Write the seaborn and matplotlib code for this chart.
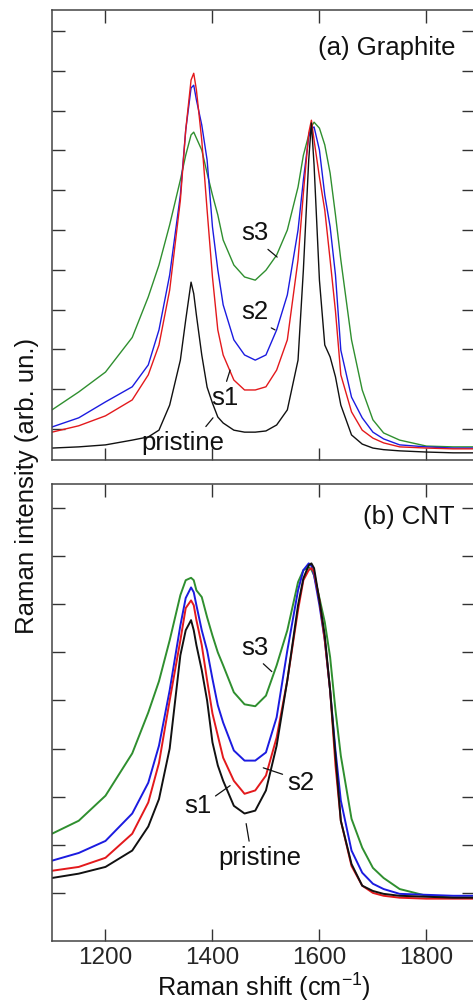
import matplotlib
matplotlib.use("Agg")
import matplotlib.pyplot as plt
import numpy as np
import pandas as pd
import seaborn as sns

# ---------------- data ----------------
shift = [1100, 1150, 1200, 1250, 1280, 1300, 1320, 1340, 1350, 1360, 1365, 1370, 1380,
         1390, 1400, 1410, 1420, 1440, 1460, 1480, 1500, 1520, 1540, 1560, 1570, 1580,
         1585, 1590, 1600, 1610, 1620, 1630, 1640, 1660, 1680, 1700, 1720, 1750, 1800,
         1850, 1890]

sample_names = ["pristine", "s1", "s2", "s3"]

# (a) Graphite
gr_pristine = [0.52, 0.55, 0.60, 0.72, 0.80, 0.97, 1.60, 2.73, 3.74, 4.69, 4.40, 3.86, 2.86,
               2.05, 1.65, 1.30, 1.15, 0.97, 0.92, 0.92, 0.95, 1.10, 1.48, 2.73, 5.00, 7.76,
               8.69, 7.63, 4.74, 3.11, 2.81, 2.31, 1.60, 0.85, 0.62, 0.52, 0.48, 0.45, 0.42,
               0.40, 0.40]
gr_s1 = [0.92, 1.08, 1.33, 1.73, 2.36, 3.11, 4.49, 6.75, 8.51, 9.77, 9.94, 9.52, 8.26,
         6.50, 4.82, 3.49, 2.86, 2.23, 1.98, 1.98, 2.06, 2.48, 3.24, 5.25, 6.93, 8.44,
         8.76, 8.26, 7.33, 6.50, 5.25, 3.96, 2.36, 1.43, 0.97, 0.77, 0.65, 0.55, 0.52,
         0.50, 0.50]
gr_s2 = [1.05, 1.28, 1.68, 2.06, 2.61, 3.49, 4.87, 6.88, 8.51, 9.57, 9.64, 9.27, 8.64,
         7.76, 6.08, 5.00, 4.12, 3.24, 2.86, 2.73, 2.86, 3.49, 4.37, 6.00, 7.26, 8.34,
         8.55, 8.59, 8.01, 6.88, 6.08, 4.87, 2.98, 1.80, 1.28, 0.92, 0.75, 0.60, 0.55,
         0.52, 0.52]
gr_s3 = [1.48, 1.93, 2.43, 3.30, 4.32, 5.12, 6.13, 7.26, 7.88, 8.39, 8.46, 8.31, 8.01,
         7.43, 6.88, 6.38, 5.75, 5.12, 4.82, 4.74, 4.99, 5.37, 6.00, 7.08, 7.88, 8.39,
         8.60, 8.71, 8.56, 8.14, 7.43, 6.38, 5.25, 3.24, 1.98, 1.23, 0.90, 0.72, 0.57,
         0.55, 0.55]

# (b) CNT
cnt_pristine = [1.31, 1.40, 1.54, 1.88, 2.38, 2.95, 4.00, 5.94, 6.46, 6.67, 6.46, 6.15, 5.63,
                5.00, 4.13, 3.65, 3.33, 2.81, 2.65, 2.71, 3.13, 4.06, 5.42, 6.98, 7.54, 7.81,
                7.85, 7.75, 7.08, 6.35, 5.21, 3.85, 2.50, 1.60, 1.15, 1.04, 0.98, 0.94, 0.92,
                0.90, 0.90]
cnt_s1 = [1.46, 1.54, 1.73, 2.23, 2.88, 3.70, 5.00, 6.25, 6.92, 7.08, 6.98, 6.67, 6.15,
          5.42, 4.73, 4.27, 3.81, 3.33, 3.06, 3.13, 3.44, 4.23, 5.42, 6.88, 7.50, 7.71,
          7.75, 7.67, 7.08, 6.25, 5.21, 3.65, 2.50, 1.56, 1.15, 1.00, 0.94, 0.90, 0.88,
          0.88, 0.88]
cnt_s2 = [1.67, 1.83, 2.08, 2.65, 3.29, 4.06, 5.21, 6.56, 7.13, 7.35, 7.25, 6.98, 6.46,
          6.04, 5.45, 4.90, 4.54, 3.96, 3.75, 3.75, 3.92, 4.65, 6.04, 7.29, 7.71, 7.85,
          7.80, 7.60, 6.98, 6.25, 5.21, 3.96, 2.92, 1.88, 1.42, 1.19, 1.08, 0.98, 0.96,
          0.94, 0.94]
cnt_s3 = [2.23, 2.50, 3.02, 3.90, 4.75, 5.40, 6.25, 7.19, 7.50, 7.55, 7.50, 7.29, 7.15,
          6.73, 6.35, 6.00, 5.73, 5.17, 4.92, 4.88, 5.10, 5.73, 6.46, 7.46, 7.71, 7.77,
          7.72, 7.60, 7.13, 6.63, 5.90, 4.80, 3.85, 2.54, 1.94, 1.52, 1.31, 1.08, 0.94,
          0.90, 0.90]

xticks = [1200, 1400, 1600, 1800]
panel_titles = ["(a) Graphite", "(b) CNT"]

# ---------------- style ----------------
sns.set_theme(style="ticks")
plt.rcParams["font.family"] = ["Liberation Sans", "DejaVu Sans"]
plt.rcParams["mathtext.fontset"] = "custom"
plt.rcParams["mathtext.rm"] = "Liberation Sans"
plt.rcParams["mathtext.it"] = "Liberation Sans:italic"

colors = {"pristine": "#111111", "s1": "#e3191c", "s2": "#1b1be0", "s3": "#2f8f2f"}
draw_order = ["s3", "s2", "s1", "pristine"]

W, H = 473, 1005
fig = plt.figure(figsize=(W / 100, H / 100), dpi=100)

ax1 = fig.add_axes([52 / W, 1 - 460 / H, (474 - 52) / W, 450 / H])
ax2 = fig.add_axes([52 / W, 1 - 941 / H, (474 - 52) / W, 457 / H])


def long_df(series):
    frames = []
    for name, vals in zip(sample_names, series):
        frames.append(pd.DataFrame({"shift": shift, "intensity": vals, "sample": name}))
    return pd.concat(frames, ignore_index=True)


def draw(ax, series, lw):
    df = long_df(series)
    sns.lineplot(data=df, x="shift", y="intensity", hue="sample", hue_order=draw_order,
                 palette=colors, linewidth=lw, legend=False, ax=ax,
                 estimator=None, sort=False)


draw(ax1, [gr_pristine, gr_s1, gr_s2, gr_s3], 1.0)
draw(ax2, [cnt_pristine, cnt_s1, cnt_s2, cnt_s3], 1.4)

ax1.set_ylim(0.22, 11.53)
ax1.set_yticks(range(1, 12))
ax2.set_ylim(0.0, 9.5)
ax2.set_yticks(range(1, 10))

for ax in (ax1, ax2):
    ax.set_xlim(1100, 1889)
    ax.set_xticks(xticks)
    ax.set_xlabel("")
    ax.set_ylabel("")
    ax.tick_params(direction="in", top=True, right=True, length=9, width=1.0,
                   color="#333333", labelleft=False, labelsize=17.5, pad=4)
    for sp in ax.spines.values():
        sp.set_color("#444444")
        sp.set_linewidth(1.1)
ax1.tick_params(labelbottom=False)

# annotations (label text position, point on curve)
ann_kw = dict(ha="center", va="center", fontsize=18.5, color="#111111")
line_kw = dict(arrowstyle="-", color="#111111", lw=0.9, shrinkA=1, shrinkB=0)

ax1.annotate("s3", xy=(1521, 5.32), xytext=(1479, 5.92),
             arrowprops=dict(relpos=(0.75, 0.05), **line_kw), **ann_kw)
ax1.annotate("s2", xy=(1517, 3.49), xytext=(1479, 3.94),
             arrowprops=dict(relpos=(0.75, 0.05), **line_kw), **ann_kw)
ax1.annotate("s1", xy=(1433, 2.48), xytext=(1423, 1.78),
             arrowprops=dict(relpos=(0.5, 0.95), **line_kw), **ann_kw)
ax1.annotate("pristine", xy=(1401, 1.28), xytext=(1345, 0.65),
             arrowprops=dict(relpos=(0.72, 0.95), **line_kw), **ann_kw)

ax2.annotate("s3", xy=(1511, 5.6), xytext=(1479, 6.1),
             arrowprops=dict(relpos=(0.6, 0.05), **line_kw), **ann_kw)
ax2.annotate("s2", xy=(1495, 3.6), xytext=(1565, 3.29),
             arrowprops=dict(relpos=(0.1, 0.75), **line_kw), **ann_kw)
ax2.annotate("s1", xy=(1433, 3.23), xytext=(1372, 2.81),
             arrowprops=dict(relpos=(0.9, 0.7), **line_kw), **ann_kw)
ax2.annotate("pristine", xy=(1463, 2.44), xytext=(1489, 1.73),
             arrowprops=dict(relpos=(0.38, 0.95), **line_kw), **ann_kw)

# panel titles and axis labels
fig.text(455 / W, 1 - 48 / H, panel_titles[0], ha="right", va="center",
         fontsize=18.5, color="#111111")
fig.text(455 / W, 1 - 517 / H, panel_titles[1], ha="right", va="center",
         fontsize=18.5, color="#111111")
fig.text(264 / W, 1 - 988 / H, r"Raman shift (cm$^{\mathregular{-1}}$)", ha="center",
         va="center", fontsize=18.2, color="#111111")
fig.text(27 / W, 1 - 486 / H, "Raman intensity (arb. un.)", ha="center", va="center",
         rotation=90, fontsize=18.5, color="#111111")

fig.savefig("out.png", dpi=100, facecolor="white")
